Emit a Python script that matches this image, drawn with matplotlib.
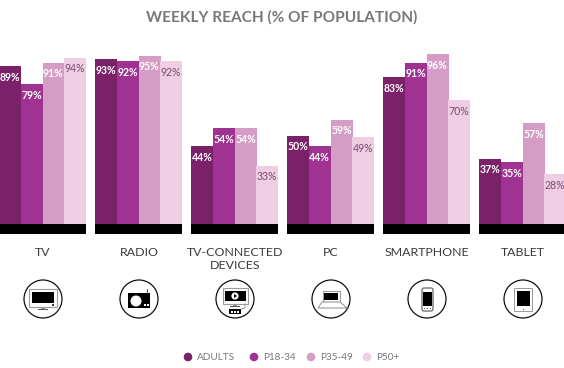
import matplotlib
matplotlib.use('Agg')
import matplotlib.pyplot as plt
from matplotlib.patches import Circle, Rectangle, Polygon, FancyBboxPatch

# data
devices = ['TV', 'RADIO', 'TV-CONNECTED\nDEVICES', 'PC', 'SMARTPHONE', 'TABLET']
groups = ['ADULTS', 'P18-34', 'P35-49', 'P50+']
adults = [89, 93, 44, 50, 83, 37]
p18_34 = [79, 92, 54, 44, 91, 35]
p35_49 = [91, 95, 54, 59, 96, 57]
p50 = [94, 92, 33, 49, 70, 28]

colors = ['#7a2169', '#a03291', '#d59cc5', '#efcde2']
label_colors = ['white', 'white', 'white', '#7b4a72']
series = [adults, p18_34, p35_49, p50]

W, H = 564, 368
PX_PER_PCT = 1.77
BASE_Y = 224
PITCH = 96
BAR_W = 21.75
GROUP_W = BAR_W * 4

plt.rcParams['font.family'] = ['Lato', 'DejaVu Sans']
fig = plt.figure(figsize=(W / 100, H / 100), dpi=100)

# bars live in percent on y, pixels on x
ax = fig.add_axes([0, 0, 1, 1])
ax.set_xlim(0, W)
ax.set_ylim(-(H - BASE_Y) / PX_PER_PCT, BASE_Y / PX_PER_PCT)
ax.axis('off')

for s, vals in enumerate(series):
    for g, v in enumerate(vals):
        x = -1 + g * PITCH + s * BAR_W
        ax.bar(x, v, width=BAR_W + 0.3, align='edge', color=colors[s], linewidth=0)
        ax.annotate(f'{v}%', (x + BAR_W / 2, v), xytext=(0, -11), textcoords='offset pixels',
                    ha='center', va='center', fontsize=7.6, fontweight='bold' if s < 3 else 'normal',
                    color=label_colors[s])

for g in range(len(devices)):
    ax.bar(-1 + g * PITCH, -10 / PX_PER_PCT, width=GROUP_W, align='edge', color='black',
           linewidth=0)

# overlay in pixel coordinates (y down) for text and icons
ov = fig.add_axes([0, 0, 1, 1])
ov.set_xlim(0, W)
ov.set_ylim(H, 0)
ov.set_aspect('equal')
ov.axis('off')
ov.patch.set_alpha(0)

ov.text(282, 17, 'WEEKLY REACH (% OF POPULATION)', ha='center', va='center', fontsize=11.1,
        fontweight='bold', color='#77787b')

for g, name in enumerate(devices):
    ov.text(43 + g * PITCH, 247, name, ha='center', va='top', fontsize=8.9, color='#3a3a3a',
            linespacing=1.2)


def rect(x, y, w, h, fc='black', ec='none', lw=0.0):
    ov.add_patch(Rectangle((x, y), w, h, facecolor=fc, edgecolor=ec, linewidth=lw))


CY = 299
centers = [43 + g * PITCH for g in range(6)]
for cx in centers:
    ov.add_patch(Circle((cx, CY), 19, fill=False, edgecolor='#111111', linewidth=0.9))

GR = '#9a9a9a'
# tv
cx = centers[0]
rect(cx - 14, CY - 10, 28, 18, fc='white', ec=GR, lw=0.8)
rect(cx - 11, CY - 7, 22, 11)
rect(cx + 9, CY + 5, 1.5, 1.5, fc='#333333')
rect(cx - 2, CY + 8, 4, 2, fc=GR)
rect(cx - 5, CY + 10, 10, 1, fc='#555555')
# radio
cx = centers[1]
rect(cx - 11, CY - 6, 22, 15)
ov.add_patch(Circle((cx - 3, CY + 2), 5.5, facecolor='white', edgecolor='none'))
rect(cx + 4.5, CY + 4.5, 2, 2, fc='white')
rect(cx + 7.5, CY + 4.5, 2, 2, fc='white')
ov.plot([cx + 8, cx + 8], [CY - 6, CY - 10], color='#555555', lw=0.7)
# tv-connected
cx = centers[2]
rect(cx - 12, CY - 11, 25, 16, fc='white', ec=GR, lw=0.8)
rect(cx - 10, CY - 8, 21, 10)
ov.add_patch(Circle((cx, CY - 3), 3.6, facecolor='white', edgecolor='none'))
ov.add_patch(Polygon([(cx - 1, CY - 5), (cx - 1, CY - 1), (cx + 2, CY - 3)], facecolor='black'))
rect(cx - 2, CY + 5, 4, 2, fc=GR)
rect(cx - 5, CY + 7, 10, 1, fc='#555555')
rect(cx - 6, CY + 10, 12, 5)
for dx in (-4, -1, 2):
    rect(cx + dx, CY + 12, 2, 1.5, fc='white')
ov.plot([cx + 6, cx + 10, cx + 10], [CY + 10, CY + 9, CY + 5], color=GR, lw=0.7)
# pc
cx = centers[3]
rect(cx - 8, CY - 8, 17, 11, fc='white', ec=GR, lw=0.8)
rect(cx - 7, CY - 6, 14, 7)
ov.add_patch(Polygon([(cx - 9, CY + 3), (cx + 9, CY + 3), (cx + 16, CY + 9), (cx - 13, CY + 9)],
                     facecolor='white', edgecolor=GR, linewidth=0.8))
# smartphone
cx = centers[4]
ov.add_patch(FancyBboxPatch((cx - 5, CY - 11), 11, 23, boxstyle='round,pad=0,rounding_size=2',
                            facecolor='white', edgecolor='#666666', linewidth=0.9))
rect(cx - 4, CY - 7, 9, 14)
for dx in (-2.5, 0.5, 3.5):
    rect(cx + dx - 0.5, CY + 9, 1, 1, fc='#555555')
# tablet
cx = centers[5]
rect(cx - 9, CY - 11, 18, 23, fc='white', ec=GR, lw=0.7)
rect(cx - 6, CY - 8, 13, 15)
rect(cx - 0.5, CY + 9.5, 1, 1, fc='#444444')

# legend
dot_x = [188, 254, 311, 367]
for x, name, c in zip(dot_x, groups, colors):
    ov.add_patch(Circle((x, 357), 4.3, facecolor=c, edgecolor='none'))
    ov.text(x + 9, 357, name, ha='left', va='center', fontsize=7.2, color='#77787b')

fig.savefig('out.png', dpi=100)
